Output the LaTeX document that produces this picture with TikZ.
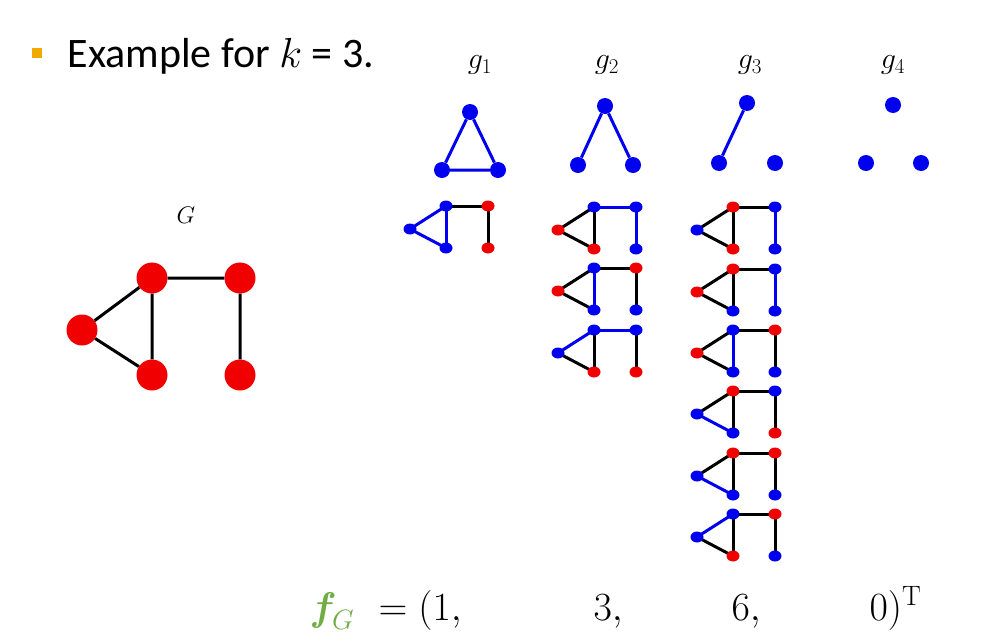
\documentclass[tikz,border=0pt]{standalone}
\usepackage{fix-cm}
\usepackage{amsmath}
\usepackage[no-math]{fontspec}
\setmainfont{Carlito}
\usetikzlibrary{shapes.geometric}
\definecolor{pblue}{RGB}{0,0,240}
\definecolor{pred}{RGB}{240,0,0}
\definecolor{pgreen}{RGB}{112,173,71}
\definecolor{porange}{RGB}{240,170,0}
\tikzset{
  sdot/.style={ellipse,inner sep=0pt,minimum width=13pt,minimum height=11pt},
  bdot/.style={circle,fill=pred,inner sep=0pt,minimum size=31pt},
  tdot/.style={circle,fill=pblue,inner sep=0pt,minimum size=16pt},
  sedge/.style={line width=3pt},
  bedge/.style={line width=3pt},
  lab/.style={font=\fontsize{30}{34}\selectfont},
  vec/.style={anchor=base west,font=\fontsize{40}{46}\selectfont}
}
\newcommand\sg[8]{%
  \coordinate (#1a) at (#2-36,#3+23);
  \coordinate (#1b) at (#2,#3);
  \coordinate (#1c) at (#2,#3+42);
  \coordinate (#1d) at (#2+42,#3);
  \coordinate (#1e) at (#2+42,#3+42);
  \ifnum#4#5=11 \def\cab{pblue}\else\def\cab{black}\fi
  \ifnum#4#6=11 \def\cac{pblue}\else\def\cac{black}\fi
  \ifnum#5#6=11 \def\cbc{pblue}\else\def\cbc{black}\fi
  \ifnum#5#7=11 \def\cbd{pblue}\else\def\cbd{black}\fi
  \ifnum#7#8=11 \def\cde{pblue}\else\def\cde{black}\fi
  \draw[sedge,\cab] (#1a) -- (#1b);
  \draw[sedge,\cac] (#1a) -- (#1c);
  \draw[sedge,\cbc] (#1b) -- (#1c);
  \draw[sedge,\cbd] (#1b) -- (#1d);
  \draw[sedge,\cde] (#1d) -- (#1e);
  \ifnum#4=1 \node[sdot,fill=pblue] (#1A) at (#1a) {};\else\node[sdot,fill=pred] (#1A) at (#1a) {};\fi
  \ifnum#5=1 \node[sdot,fill=pblue] (#1B) at (#1b) {};\else\node[sdot,fill=pred] (#1B) at (#1b) {};\fi
  \ifnum#6=1 \node[sdot,fill=pblue] (#1C) at (#1c) {};\else\node[sdot,fill=pred] (#1C) at (#1c) {};\fi
  \ifnum#7=1 \node[sdot,fill=pblue] (#1D) at (#1d) {};\else\node[sdot,fill=pred] (#1D) at (#1d) {};\fi
  \ifnum#8=1 \node[sdot,fill=pblue] (#1E) at (#1e) {};\else\node[sdot,fill=pred] (#1E) at (#1e) {};\fi
}
\begin{document}
\begin{tikzpicture}[x=1pt,y=-1pt]
\useasboundingbox (0,0) rectangle (986,643);
% title
\node[fill=porange,minimum size=10pt,inner sep=0pt] (bul) at (37,53) {};
\node[anchor=base west,font=\fontsize{42}{48}\selectfont] (title) at (64,67) {Example for $k$ = 3.};
% labels
\node[lab] (l1) at (480,65) {$g_1$};
\node[lab] (l2) at (607,65) {$g_2$};
\node[lab] (l3) at (750,65) {$g_3$};
\node[lab] (l4) at (893,65) {$g_4$};
\node[font=\fontsize{24}{28}\selectfont] (lG) at (186,215) {$G$};
% top graphlets
\node[tdot] (t1a) at (470,112) {}; \node[tdot] (t1b) at (442,170) {}; \node[tdot] (t1c) at (498,170) {};
\draw[bedge,pblue] (t1a) -- (t1b) -- (t1c) -- (t1a);
\node[tdot] (t2a) at (605,106) {}; \node[tdot] (t2b) at (578,165) {}; \node[tdot] (t2c) at (633,165) {};
\draw[bedge,pblue] (t2b) -- (t2a) -- (t2c);
\node[tdot] (t3a) at (747,103) {}; \node[tdot] (t3b) at (719,163) {}; \node[tdot] (t3c) at (775,163) {};
\draw[bedge,pblue] (t3a) -- (t3b);
\node[tdot] (t4a) at (893,105) {}; \node[tdot] (t4b) at (866,163) {}; \node[tdot] (t4c) at (921,163) {};
% big G
\node[bdot] (Ga) at (82,330) {};
\node[bdot] (Gb) at (152,278) {};
\node[bdot] (Gc) at (152,375) {};
\node[bdot] (Gd) at (240,278) {};
\node[bdot] (Ge) at (240,375) {};
\draw[bedge] (Ga) -- (Gb) (Ga) -- (Gc) (Gb) -- (Gc) (Gb) -- (Gd) (Gd) -- (Ge);
% small copies
\sg{p1}{446}{206}{1}{1}{1}{0}{0}
\sg{q1}{594}{207}{0}{1}{0}{1}{1}
\sg{q2}{594}{268}{0}{1}{1}{0}{1}
\sg{q3}{594}{330}{1}{1}{0}{1}{0}
\sg{r1}{733}{207}{1}{0}{0}{1}{1}
\sg{r2}{733}{269}{0}{0}{1}{1}{1}
\sg{r3}{733}{330}{0}{1}{1}{0}{1}
\sg{r4}{733}{391}{1}{0}{1}{1}{0}
\sg{r5}{733}{453}{1}{0}{1}{0}{1}
\sg{r6}{733}{514}{1}{1}{0}{0}{1}
% vector
\node[vec,text=pgreen] (fg) at (306,620) {$\boldsymbol{f}_{\!G}$};
\node[vec] (eq) at (375,620) {$=(1,$};
\node[vec] (v2) at (590,620) {$3,$};
\node[vec] (v3) at (728,620) {$6,$};
\node[vec] (v4) at (866,620) {$0)^{\mathrm{T}}$};
\end{tikzpicture}
\end{document}
